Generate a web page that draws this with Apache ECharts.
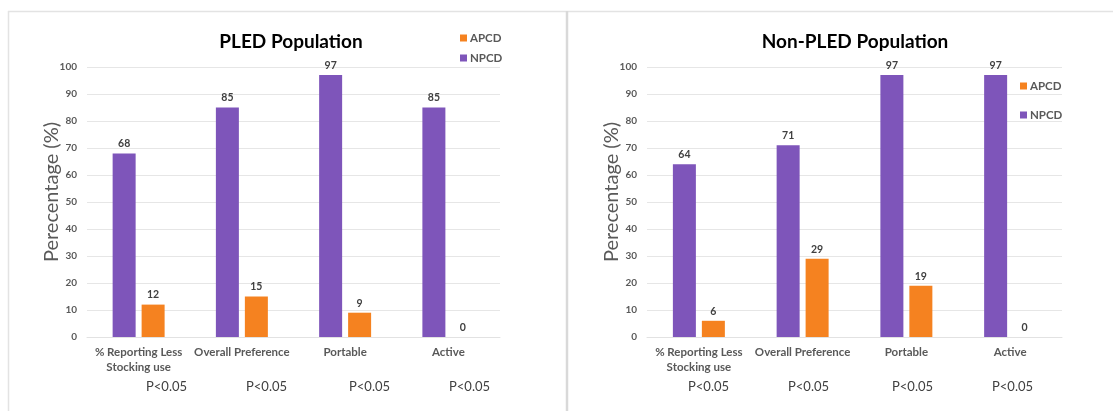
<!DOCTYPE html>
<html>
<head>
<meta charset="utf-8">
<script src="https://cdn.jsdelivr.net/npm/echarts@6/dist/echarts.min.js"></script>
<style>
  html, body { margin: 0; padding: 0; background: #fff; }
  #chart { width: 1113px; height: 411px; }
</style>
</head>
<body>
<div id="chart"></div>
<script>
// Categories shared by both panels
const categories = ['% Reporting Less\nStocking use', 'Overall Preference', 'Portable', 'Active'];
const yTicks = [0, 10, 20, 30, 40, 50, 60, 70, 80, 90, 100];

// PLED population (%)
const pledNPCD = [68, 85, 97, 85];
const pledAPCD = [12, 15, 9, 0];

// Non-PLED population (%)
const nonPledNPCD = [64, 71, 97, 97];
const nonPledAPCD = [6, 29, 19, 0];

// Significance notes under each category
const pNotes = ['P<0.05', 'P<0.05', 'P<0.05', 'P<0.05'];

const PURPLE = '#7E55BA';
const ORANGE = '#F58220';
const FONT = 'Lato, "Open Sans", sans-serif';

const chart = echarts.init(document.getElementById('chart'));

function xAxisFor(gridIndex) {
  return {
    type: 'category', gridIndex, data: categories,
    axisLine: { lineStyle: { color: '#e2e2e2', width: 1 } },
    axisTick: { show: false },
    axisLabel: {
      interval: 0, color: '#595959', fontFamily: FONT, fontWeight: 'bold',
      fontSize: 11.5, lineHeight: 15, margin: 8
    }
  };
}
function yAxisFor(gridIndex) {
  return {
    type: 'value', gridIndex, min: yTicks[0], max: yTicks[yTicks.length - 1], interval: yTicks[1] - yTicks[0],
    name: 'Perecentage (%)', nameLocation: 'middle', nameGap: 25, nameMoveOverlap: false,
    nameTextStyle: { color: '#595959', fontFamily: FONT, fontSize: 20, padding: [0, 0, 0, 20] },
    axisLine: { show: false }, axisTick: { show: false },
    axisLabel: { color: '#595959', fontFamily: FONT, fontWeight: 'bold', fontSize: 10, margin: 10 },
    splitLine: { lineStyle: { color: '#e6e6e6', width: 1 } }
  };
}
function barSeries(name, data, color, idx) {
  return {
    type: 'bar', name, data, xAxisIndex: idx, yAxisIndex: idx,
    barWidth: 23, barGap: '26%',
    itemStyle: { color },
    label: {
      show: true, position: 'top', distance: 4, color: '#404040',
      fontFamily: FONT, fontWeight: 'bold', fontSize: 10.5
    }
  };
}

// P-value notes as text beneath each panel's categories
const notesLeft = [146, 246, 349, 449];
const notesRight = [688, 788, 892, 992];
const noteText = (x, t) => ({
  type: 'text', left: x, top: 380,
  style: { text: t, fill: '#404040', font: '13px ' + FONT, textAlign: 'center' }
});

chart.setOption({
  animation: false,
  textStyle: { fontFamily: FONT },
  title: [
    { text: 'PLED Population', left: 286, top: 27, textAlign: 'center',
      textStyle: { fontFamily: FONT, fontSize: 19, fontWeight: 'bold', color: '#000' } },
    { text: 'Non-PLED Population', left: 850, top: 27, textAlign: 'center',
      textStyle: { fontFamily: FONT, fontSize: 19, fontWeight: 'bold', color: '#000' } }
  ],
  legend: [
    { data: ['APCD', 'NPCD'], orient: 'vertical', left: 455, top: 27, itemGap: 8,
      itemWidth: 7, itemHeight: 7, icon: 'rect',
      textStyle: { color: '#595959', fontFamily: FONT, fontWeight: 'bold', fontSize: 11.5, padding: [0, 0, 0, -2] } },
    { data: ['APCD', 'NPCD'], orient: 'vertical', left: 1015, top: 75, itemGap: 17,
      itemWidth: 7, itemHeight: 7, icon: 'rect',
      textStyle: { color: '#595959', fontFamily: FONT, fontWeight: 'bold', fontSize: 11.5, padding: [0, 0, 0, -2] } }
  ],
  grid: [
    { left: 87, right: 613, top: 67, bottom: 74 },
    { left: 647, right: 51, top: 67, bottom: 74 }
  ],
  xAxis: [xAxisFor(0), xAxisFor(1)],
  yAxis: [yAxisFor(0), yAxisFor(1)],
  series: [
    barSeries('NPCD', pledNPCD, PURPLE, 0),
    barSeries('APCD', pledAPCD, ORANGE, 0),
    barSeries('NPCD', nonPledNPCD, PURPLE, 1),
    barSeries('APCD', nonPledAPCD, ORANGE, 1)
  ],
  graphic: [
    // panel frame
    { type: 'line', shape: { x1: 8, y1: 11.5, x2: 1113, y2: 11.5 }, style: { stroke: '#e3e3e3', lineWidth: 1.5 } },
    { type: 'line', shape: { x1: 8.5, y1: 11, x2: 8.5, y2: 411 }, style: { stroke: '#e3e3e3', lineWidth: 1.5 } },
    { type: 'line', shape: { x1: 567, y1: 11, x2: 567, y2: 411 }, style: { stroke: '#d9d9d9', lineWidth: 2.5 } },
    ...notesLeft.map((x, i) => noteText(x, pNotes[i])),
    ...notesRight.map((x, i) => noteText(x, pNotes[i]))
  ]
});
</script>
</body>
</html>
